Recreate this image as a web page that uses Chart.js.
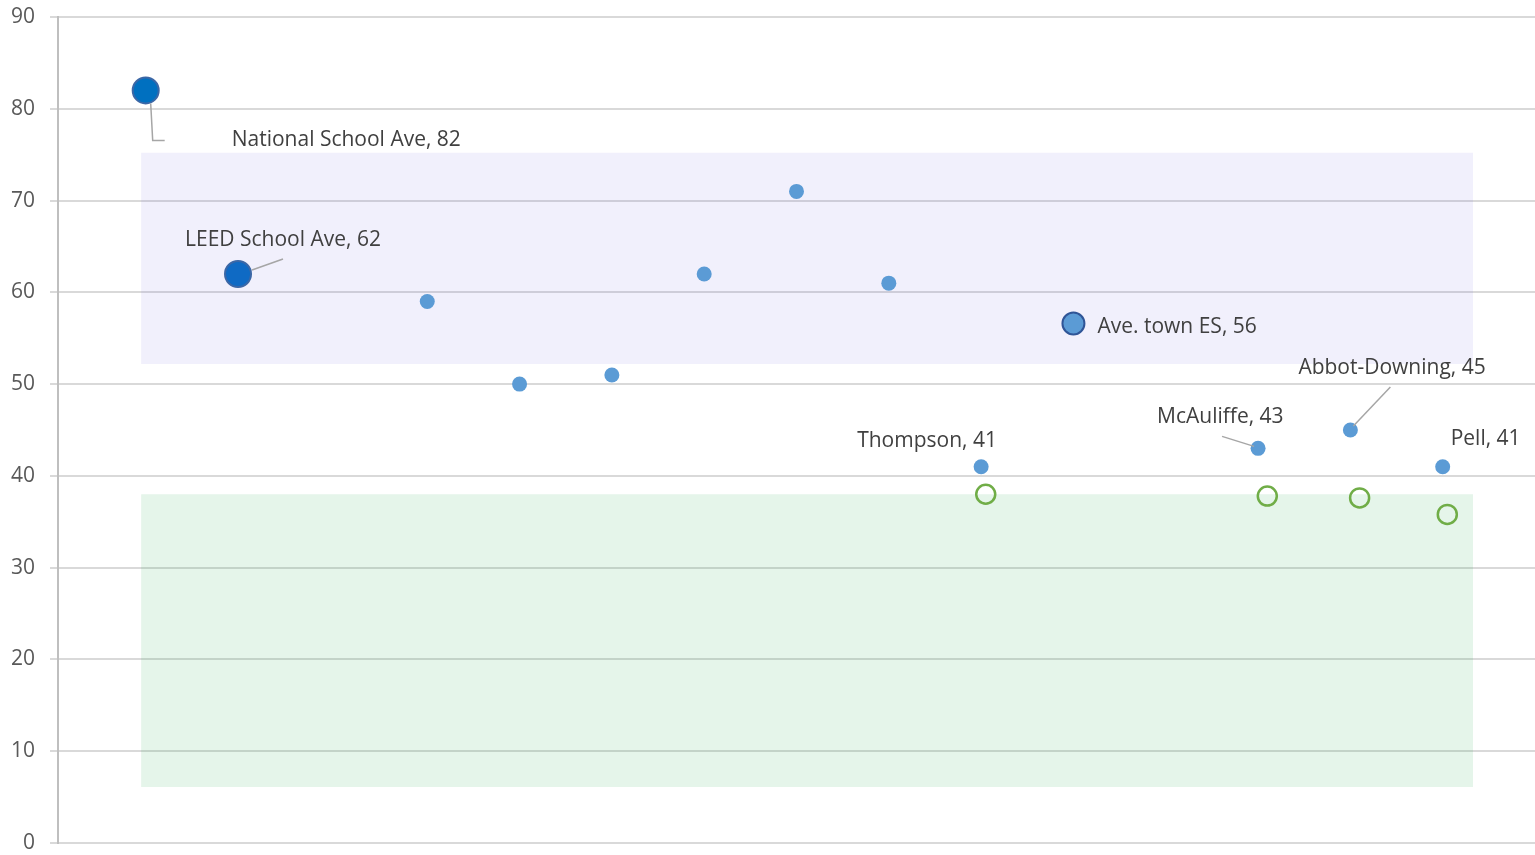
<!DOCTYPE html>
<html>
<head>
<meta charset="utf-8">
<script src="https://cdn.jsdelivr.net/npm/chart.js@4"></script>
<style>
  html, body { margin: 0; padding: 0; background: #fff; overflow: hidden; }
  canvas { display: block; }
</style>
</head>
<body>
<canvas id="chart" width="1535" height="855"></canvas>
<script>
// values
const yTicks = [0, 10, 20, 30, 40, 50, 60, 70, 80, 90];

const nationalAvg = [{ x: 0.95, y: 82 }];
const leedAvg = [{ x: 1.95, y: 62 }];
const schoolX = [4, 5, 6, 7, 8, 9, 10, 13, 14, 15];
const schoolY = [59, 50, 51, 62, 71, 61, 41, 43, 45, 41];
const townAvg = [{ x: 11, y: 56.6 }];
const targetX = [10.05, 13.1, 14.1, 15.05];
const targetY = [38, 37.8, 37.6, 35.8];

// shaded ranges
const bandX = [0.9, 15.33];
const upperBand = [52.2, 75.2];
const lowerBand = [6.1, 38];

// which points get a name label
const labelNames = {
  national: "National School Ave",
  leed: "LEED School Ave",
  town: "Ave. town ES",
  s10: "Thompson",
  s13: "McAuliffe",
  s14: "Abbot-Downing",
  s15: "Pell"
};

const schools = schoolX.map(function (x, i) { return { x: x, y: schoolY[i] }; });
const targets = targetX.map(function (x, i) { return { x: x, y: targetY[i] }; });

function bandLine(y) {
  return bandX.map(function (x) { return { x: x, y: y }; });
}

// label offsets from the point: text anchor (left) and leader line
const labelStyle = {
  national: { dx: 86, dy: 50, leader: [[5, 13], [7, 50], [19, 50]] },
  leed: { dx: -53, dy: -34, leader: [[14, -4], [45, -15]] },
  town: { dx: 24, dy: 3 },
  s10: { dx: -124, dy: -26 },
  s13: { dx: -101, dy: -31, leader: [[-4, -2], [-36, -12]] },
  s14: { dx: -52, dy: -62, leader: [[3, -4], [40, -43]] },
  s15: { dx: 8, dy: -28 }
};

const labelPlugin = {
  id: "pointLabels",
  afterDatasetsDraw: function (chart) {
    const ctx = chart.ctx;
    const xs = chart.scales.x, ys = chart.scales.y;
    const items = [
      ["national", nationalAvg[0]],
      ["leed", leedAvg[0]],
      ["town", townAvg[0]],
      ["s10", schools[6]],
      ["s13", schools[7]],
      ["s14", schools[8]],
      ["s15", schools[9]]
    ];
    ctx.save();
    items.forEach(function (it) {
      const key = it[0], p = it[1], st = labelStyle[key];
      const px = xs.getPixelForValue(p.x), py = ys.getPixelForValue(p.y);
      if (st.leader) {
        ctx.strokeStyle = "#a6a6a6";
        ctx.lineWidth = 1.5;
        ctx.beginPath();
        st.leader.forEach(function (q, j) {
          if (j === 0) ctx.moveTo(px + q[0], py + q[1]);
          else ctx.lineTo(px + q[0], py + q[1]);
        });
        ctx.stroke();
      }
      ctx.fillStyle = "#404040";
      ctx.font = "21px 'Open Sans'";
      ctx.textAlign = "left";
      ctx.textBaseline = "middle";
      ctx.fillText(labelNames[key] + ", " + Math.floor(p.y), px + st.dx, py + st.dy);
    });
    ctx.restore();
  }
};

const ctx = document.getElementById("chart").getContext("2d");
const myChart = new Chart(ctx, {
  type: "scatter",
  data: {
    datasets: [
      {
        label: "National School Ave",
        data: nationalAvg,
        pointRadius: 13,
        backgroundColor: "#0070C0",
        borderColor: "#3B67A6",
        borderWidth: 2,
        order: 1
      },
      {
        label: "LEED School Ave",
        data: leedAvg,
        pointRadius: 13,
        backgroundColor: "#0F6AC4",
        borderColor: "#3B67A6",
        borderWidth: 2,
        order: 1
      },
      {
        label: "Schools",
        data: schools,
        pointRadius: 7.5,
        backgroundColor: "#5B9BD5",
        borderWidth: 0,
        order: 1
      },
      {
        label: "Ave. town ES",
        data: townAvg,
        pointRadius: 11,
        backgroundColor: "#5B9BD5",
        borderColor: "#2F5597",
        borderWidth: 2,
        order: 1
      },
      {
        label: "Target",
        data: targets,
        pointRadius: 9.5,
        backgroundColor: "rgba(0,0,0,0)",
        borderColor: "#70AD47",
        borderWidth: 2.5,
        order: 1
      },
      {
        type: "line",
        label: "upper top",
        data: bandLine(upperBand[1]),
        pointRadius: 0,
        borderWidth: 0,
        borderColor: "rgba(0,0,0,0)",
        backgroundColor: "rgba(115,105,225,0.1)",
        fill: "+1",
        order: 10
      },
      {
        type: "line",
        label: "upper bottom",
        data: bandLine(upperBand[0]),
        pointRadius: 0,
        borderWidth: 0,
        borderColor: "rgba(0,0,0,0)",
        fill: false,
        order: 10
      },
      {
        type: "line",
        label: "lower top",
        data: bandLine(lowerBand[1]),
        pointRadius: 0,
        borderWidth: 0,
        borderColor: "rgba(0,0,0,0)",
        backgroundColor: "rgba(38,172,80,0.12)",
        fill: "+1",
        order: 10
      },
      {
        type: "line",
        label: "lower bottom",
        data: bandLine(lowerBand[0]),
        pointRadius: 0,
        borderWidth: 0,
        borderColor: "rgba(0,0,0,0)",
        fill: false,
        order: 10
      }
    ]
  },
  options: {
    responsive: false,
    animation: false,
    layout: { autoPadding: false, padding: { top: 17, bottom: 12, right: 0, left: 0 } },
    plugins: {
      legend: { display: false },
      tooltip: { enabled: false }
    },
    scales: {
      x: {
        type: "linear",
        min: 0,
        max: 16,
        display: false
      },
      y: {
        min: 0,
        max: 90,
        afterBuildTicks: function (axis) {
          axis.ticks = yTicks.map(function (v) { return { value: v }; });
        },
        afterFit: function (axis) {
          axis.width = 58;
          axis.paddingTop = 0;
          axis.paddingBottom = 0;
        },
        grid: {
          color: "#d9d9d9",
          lineWidth: 2,
          tickLength: 8
        },
        border: { color: "#bfbfbf", width: 2 },
        ticks: {
          padding: 15,
          color: "#595959",
          font: { family: "'Open Sans'", size: 21 }
        }
      }
    }
  },
  plugins: [labelPlugin]
});
</script>
</body>
</html>
